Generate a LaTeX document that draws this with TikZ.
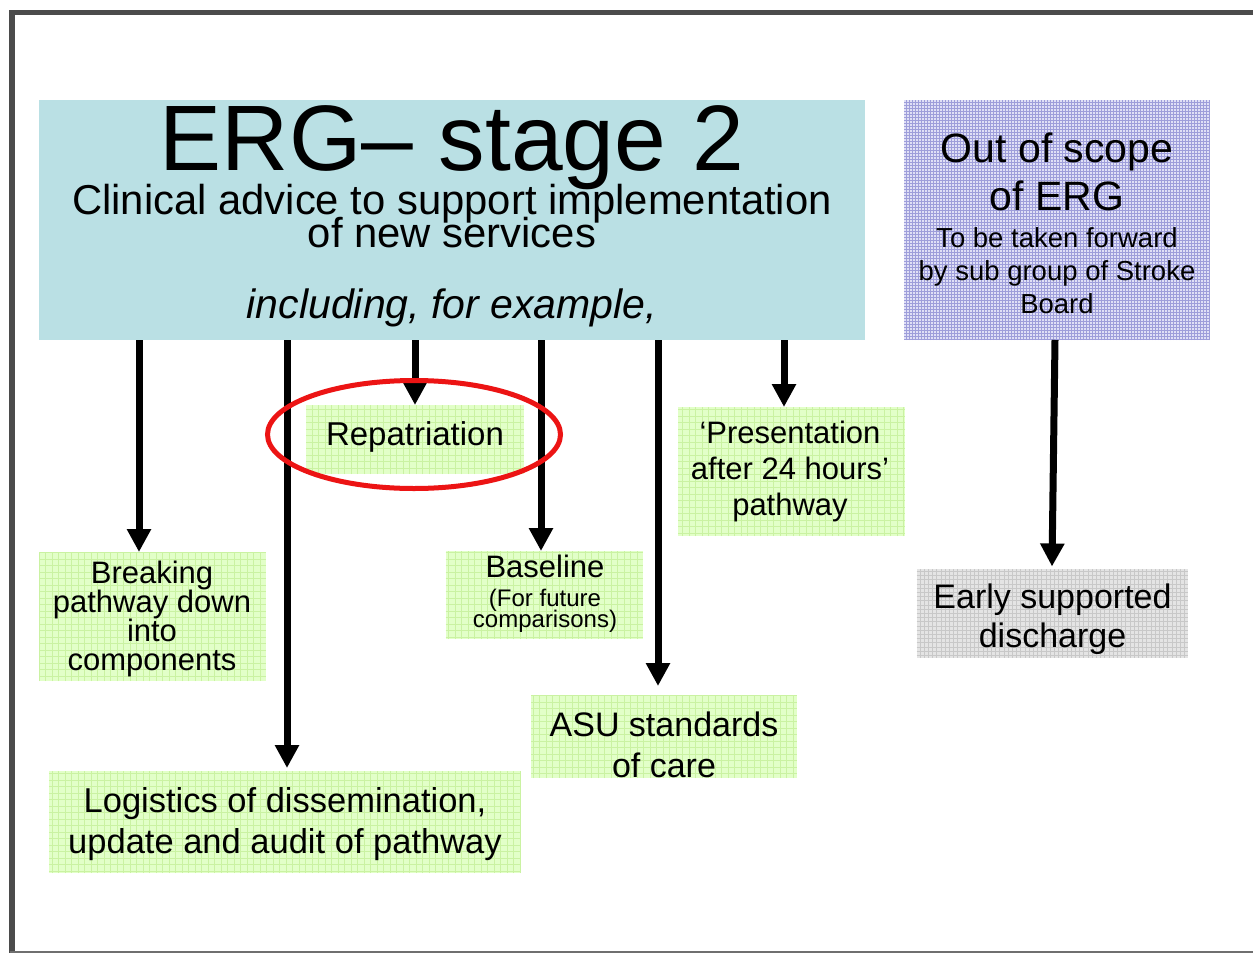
\documentclass[tikz,border=0pt]{standalone}
\usepackage{fontspec}
\setmainfont{Liberation Sans}
\usetikzlibrary{arrows.meta}
\definecolor{ergblue}{RGB}{186,224,228}
\definecolor{scopefill}{RGB}{224,224,246}
\definecolor{scopeline}{RGB}{158,158,218}
\definecolor{itemfill}{RGB}{226,255,200}
\definecolor{itemline}{RGB}{202,242,162}
\definecolor{esdfill}{RGB}{228,228,228}
\definecolor{esdline}{RGB}{200,200,200}
\definecolor{framegray}{RGB}{75,75,75}
\definecolor{ringred}{RGB}{236,20,20}
% font size and a fixed baseline distance, even when lines touch
\newcommand\fsz[2]{\fontsize{#1pt}{#2pt}\selectfont\lineskiplimit=-100pt\relax}
\begin{document}
\begin{tikzpicture}[x=1pt,y=-1pt,
  panel/.style={draw=none,inner sep=0pt,outer sep=0pt},
  itembox/.style={panel,fill=itemfill},
  itemgrid/.style={draw=itemline,line width=0.7pt,step=6.5pt},
  scopegrid/.style={draw=scopeline,line width=0.5pt,step=3pt},
  esdgrid/.style={draw=esdline,line width=0.6pt,step=4.2pt},
  label/.style={anchor=base,inner sep=0pt,align=center},
  arr/.style={line width=7pt,-{Triangle[width=23pt,length=23pt]}},
]
\useasboundingbox (0,0) rectangle (1253,953);
\fill[white] (0,0) rectangle (1253,953);

% slide frame
\draw[framegray,line width=5pt] (12,12.5) -- (1253,12.5);
\draw[framegray,line width=5.5pt] (12,10) -- (12,953);
\draw[framegray!80,line width=2pt] (10,951.5) -- (1253,951.5);

% header panel (multi-line labels sit on the baseline of their last line)
\node[panel,fill=ergblue,minimum width=826pt,minimum height=240pt] (main) at (452,220) {};
\node[label,font=\fsz{93}{100}] (title) at (452,170) {ERG– stage 2};
\node[label,font=\fsz{41.8}{33}] (sub) at (452,247) {Clinical advice to support implementation\\of new services};
\node[label,font=\fsz{41}{41}\itshape] (incl) at (452,318) {including, for example,};

% out-of-scope panel
\node[panel,fill=scopefill,minimum width=306pt,minimum height=240pt] (oos) at (1057,220) {};
\draw[scopegrid] (oos.south west) grid (oos.north east);
\node[label,font=\fsz{41}{48}] (oost) at (1057,210) {Out of scope\\of ERG};
\node[label,font=\fsz{27.5}{33}] (oosn) at (1057,313) {To be taken forward\\by sub group of Stroke\\Board};

% example items
\node[itembox,minimum width=218pt,minimum height=69pt] (rep) at (415,439.5) {};
\node[itembox,minimum width=227pt,minimum height=129pt] (brk) at (152.5,616.5) {};
\node[itembox,minimum width=197pt,minimum height=88pt] (bas) at (544,595) {};
\node[itembox,minimum width=227pt,minimum height=129pt] (pre) at (791.5,471.5) {};
\node[itembox,minimum width=266pt,minimum height=83pt] (asu) at (664,736.5) {};
\node[itembox,minimum width=472pt,minimum height=102pt] (log) at (285,822) {};
\foreach \b in {rep,brk,bas,pre,asu,log}
  \draw[itemgrid] (\b.south west) grid (\b.north east);

\node[panel,fill=esdfill,minimum width=271pt,minimum height=89pt] (esd) at (1052,613) {};
\draw[esdgrid] (esd.south west) grid (esd.north east);

\node[label,font=\fsz{33}{33}] (rept) at (415,445) {Repatriation};
\node[label,font=\fsz{31}{29}] (brkt) at (152,670) {Breaking\\pathway down\\into\\components};
\node[label,font=\fsz{31}{31}] (bast) at (545,577) {Baseline};
\node[label,font=\fsz{24}{21}] (basn) at (545,627) {(For future\\comparisons)};
\node[label,font=\fsz{31}{36}] (pret) at (790,515) {‘Presentation\\after 24 hours’\\pathway};
\node[label,font=\fsz{34}{41}] (asut) at (664,777) {ASU standards\\of care};
\node[label,font=\fsz{34.5}{41}] (logt) at (285,853) {Logistics of dissemination,\\update and audit of pathway};
\node[label,font=\fsz{34}{39}] (esdt) at (1052.5,647) {Early supported\\discharge};

% connectors
\draw[arr] ([xshift=-13.5pt]brk.north |- main.south) -- ([xshift=-13.5pt]brk.north);
\draw[arr] ([xshift=2pt]log.north |- main.south) -- ([xshift=2pt,yshift=3pt]log.north);
\draw[arr] (rep.north |- main.south) -- (rep.north);
\draw[arr] ([xshift=-3pt]bas.north |- main.south) -- ([xshift=-3pt]bas.north);
\draw[arr] ([xshift=-6pt]asu.north |- main.south) -- ([xshift=-6pt,yshift=9pt]asu.north);
\draw[arr] ([xshift=-7.5pt]pre.north |- main.south) -- ([xshift=-7.5pt]pre.north);
\draw[arr] ([xshift=-2pt]oos.south) -- ([yshift=2pt]esd.north);

% highlight ring
\draw[ringred,line width=5pt] (rep.center) ++(-1,-5) ellipse [x radius=146.5, y radius=54];
\end{tikzpicture}
\end{document}
